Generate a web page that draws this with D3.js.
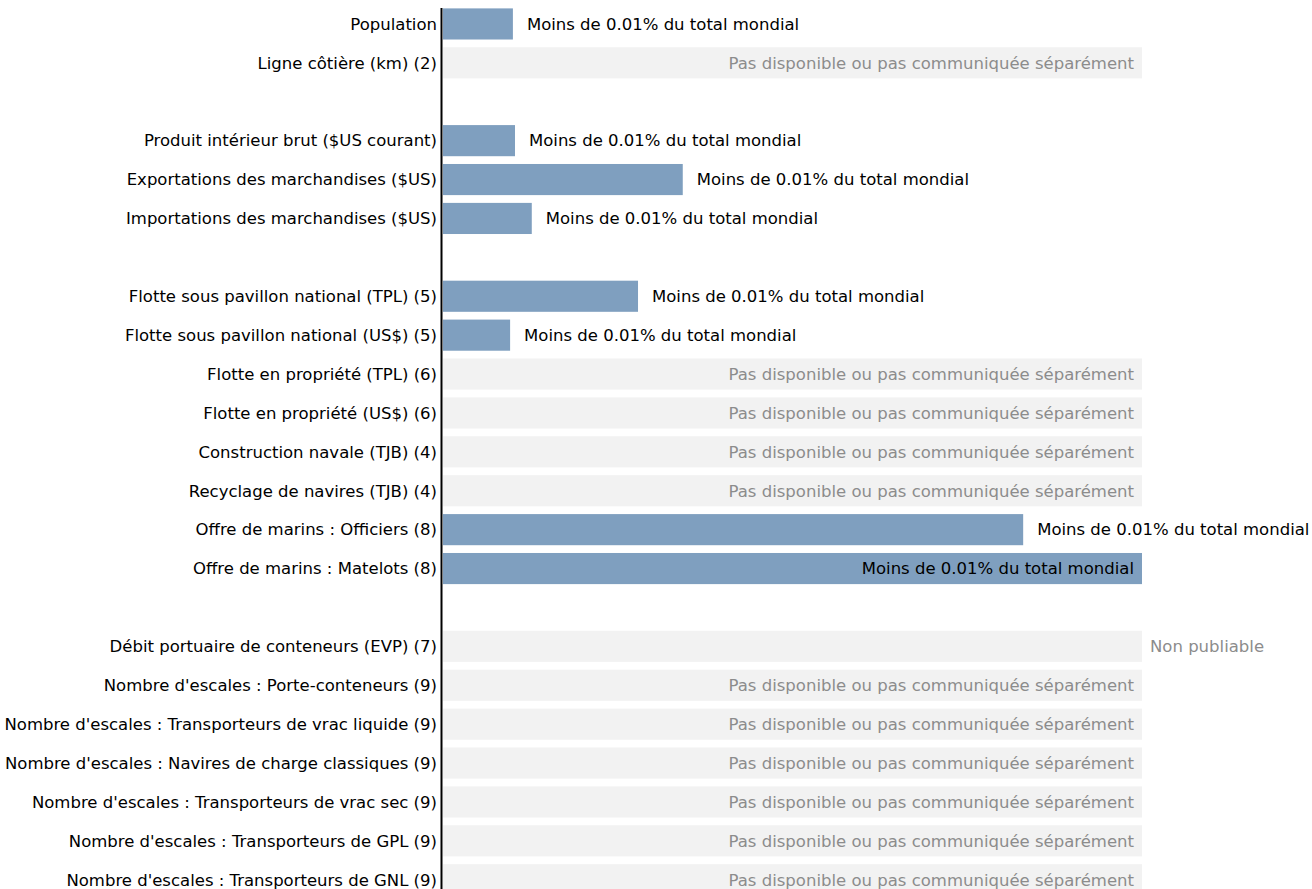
<!DOCTYPE html>
<html>
<head>
<meta charset="utf-8">
<script src="https://cdn.jsdelivr.net/npm/d3@7"></script>
<style>
  body { margin: 0; background: #fff; }
  svg text { font-family: "DejaVu Sans", sans-serif; }
</style>
</head>
<body>
<svg id="chart" width="1312" height="889"></svg>
<script>
// Categories, "" = empty spacer row
var categories = [
  "Population",
  "Ligne côtière (km) (2)",
  "",
  "Produit intérieur brut ($US courant)",
  "Exportations des marchandises ($US)",
  "Importations des marchandises ($US)",
  "",
  "Flotte sous pavillon national (TPL) (5)",
  "Flotte sous pavillon national (US$) (5)",
  "Flotte en propriété (TPL) (6)",
  "Flotte en propriété (US$) (6)",
  "Construction navale (TJB) (4)",
  "Recyclage de navires (TJB) (4)",
  "Offre de marins : Officiers (8)",
  "Offre de marins : Matelots (8)",
  "",
  "Débit portuaire de conteneurs (EVP) (7)",
  "Nombre d'escales : Porte-conteneurs (9)",
  "Nombre d'escales : Transporteurs de vrac liquide (9)",
  "Nombre d'escales : Navires de charge classiques (9)",
  "Nombre d'escales : Transporteurs de vrac sec (9)",
  "Nombre d'escales : Transporteurs de GPL (9)",
  "Nombre d'escales : Transporteurs de GNL (9)"
];
// relative bar length (max = 100), null = no data
var values = [10, null, null, 10.3, 34.3, 12.7, null, 27.9, 9.6, null, null, null, null, 83, 100, null,
  null, null, null, null, null, null, null];
// row state: "v" value, "na" not available, "np" not publishable, "" spacer
var rowState = ["v", "na", "", "v", "v", "v", "", "v", "v", "na", "na", "na", "na", "v", "v", "",
  "np", "na", "na", "na", "na", "na", "na"];

var labelShare = "Moins de 0.01% du total mondial";
var labelNA = "Pas disponible ou pas communiquée séparément";
var labelNP = "Non publiable";

var fontSize = 16.5;
var svg = d3.select("#chart");
var rows = categories.map(function(c, i) { return i; });

var y = d3.scaleBand()
    .domain(rows)
    .range([4.5, 4.5 + 38.9 * categories.length])
    .paddingInner(0.2)
    .paddingOuter(0.1);

var x = d3.scaleLinear()
    .domain([0, 100])
    .range([443, 1142]);

// background bars for missing data
svg.selectAll(".bg")
    .data(rows.filter(function(i) { return rowState[i] == "na" || rowState[i] == "np"; }))
    .enter().append("rect")
    .attr("class", "bg")
    .attr("x", x(0))
    .attr("y", function(i) { return y(i); })
    .attr("width", x(100) - x(0))
    .attr("height", y.bandwidth())
    .attr("fill", "#f2f2f2");

// value bars
svg.selectAll(".bar")
    .data(rows.filter(function(i) { return rowState[i] == "v"; }))
    .enter().append("rect")
    .attr("class", "bar")
    .attr("x", x(0))
    .attr("y", function(i) { return y(i); })
    .attr("width", function(i) { return x(values[i]) - x(0); })
    .attr("height", y.bandwidth())
    .attr("fill", "#7f9fbf");

// category labels
svg.selectAll(".cat")
    .data(rows.filter(function(i) { return categories[i] != ""; }))
    .enter().append("text")
    .attr("class", "cat")
    .attr("x", 437)
    .attr("y", function(i) { return y(i) + y.bandwidth() / 2; })
    .attr("dy", "0.35em")
    .attr("text-anchor", "end")
    .attr("font-size", fontSize)
    .attr("fill", "#000")
    .text(function(i) { return categories[i]; });

// bar value labels
svg.selectAll(".val")
    .data(rows.filter(function(i) { return rowState[i] != ""; }))
    .enter().append("text")
    .attr("class", "val")
    .attr("y", function(i) { return y(i) + y.bandwidth() / 2; })
    .attr("dy", "0.35em")
    .attr("font-size", fontSize)
    .attr("x", function(i) {
        if (rowState[i] == "na") return x(100) - 8;
        if (rowState[i] == "np") return x(100) + 8;
        if (values[i] >= 100) return x(values[i]) - 8;
        return x(values[i]) + 14;
    })
    .attr("text-anchor", function(i) {
        if (rowState[i] == "na") return "end";
        if (rowState[i] == "v" && values[i] >= 100) return "end";
        return "start";
    })
    .attr("fill", function(i) { return rowState[i] == "v" ? "#000" : "#8c8c8c"; })
    .text(function(i) {
        if (rowState[i] == "na") return labelNA;
        if (rowState[i] == "np") return labelNP;
        return labelShare;
    });

// axis line
svg.append("line")
    .attr("x1", 441.5).attr("x2", 441.5)
    .attr("y1", 8).attr("y2", 889)
    .attr("stroke", "#000")
    .attr("stroke-width", 2);
</script>
</body>
</html>
